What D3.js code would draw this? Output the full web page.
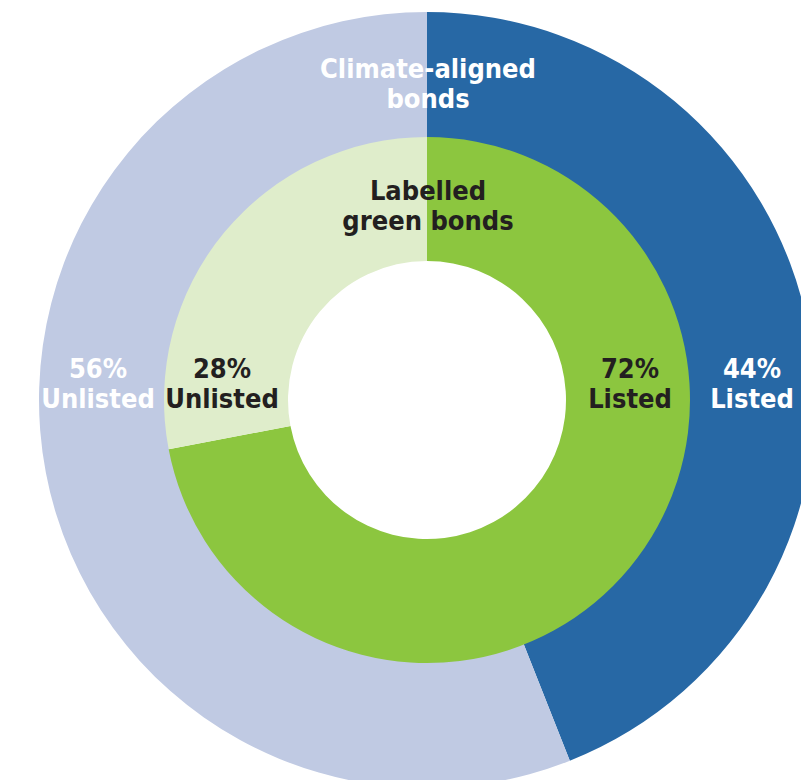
<!DOCTYPE html>
<html>
<head>
<meta charset="utf-8">
<script src="https://cdn.jsdelivr.net/npm/d3@7"></script>
<style>
  html, body { margin: 0; padding: 0; background: #fff; }
  svg { display: block; }
  text { font-family: "DejaVu Sans Condensed", "DejaVu Sans", sans-serif; font-weight: bold; }
</style>
</head>
<body>
<svg id="chart" width="801" height="780"></svg>
<script>
// Outer ring: climate-aligned bonds
const outerCats   = ["Listed", "Unlisted"];
const outerValues = [44, 56];
// Inner ring: labelled green bonds
const innerCats   = ["Listed", "Unlisted"];
const innerValues = [72, 28];

const OUTER_COLORS = { "Listed": "#2768a5", "Unlisted": "#c0cae3" };
const INNER_COLORS = { "Listed": "#8cc63f", "Unlisted": "#dfedcb" };

const svg = d3.select('#chart');
const cx = 427, cy = 400;

const g = svg.append('g').attr('transform', `translate(${cx},${cy})`);

const pie = d3.pie().sort(null).value(d => d.v);

const outerArc = d3.arc().innerRadius(262).outerRadius(388);
const innerArc = d3.arc().innerRadius(139).outerRadius(263);

const outerData = pie(outerCats.map((c, i) => ({ c, v: outerValues[i] })));
const innerData = pie(innerCats.map((c, i) => ({ c, v: innerValues[i] })));

g.selectAll('path.outer')
  .data(outerData)
  .join('path')
  .attr('class', 'outer')
  .attr('d', outerArc)
  .attr('fill', d => OUTER_COLORS[d.data.c]);

g.selectAll('path.inner')
  .data(innerData)
  .join('path')
  .attr('class', 'inner')
  .attr('d', innerArc)
  .attr('fill', d => INNER_COLORS[d.data.c]);

// labels (two lines each)
function label(x, y, lines, color) {
  const t = g.append('text')
    .attr('text-anchor', 'middle')
    .attr('fill', color)
    .style('font-size', '27px');
  lines.forEach((s, i) => {
    t.append('tspan').attr('x', x).attr('y', y + i * 30).text(s);
  });
}

label(1, -322, ["Climate-aligned", "bonds"], "#fff");
label(1, -200, ["Labelled", "green bonds"], "#231f20");
label(-329, -22, [outerValues[1] + "%", outerCats[1]], "#fff");
label(-205, -22, [innerValues[1] + "%", innerCats[1]], "#231f20");
label(203, -22, [innerValues[0] + "%", innerCats[0]], "#231f20");
label(325, -22, [outerValues[0] + "%", outerCats[0]], "#fff");
</script>
</body>
</html>
